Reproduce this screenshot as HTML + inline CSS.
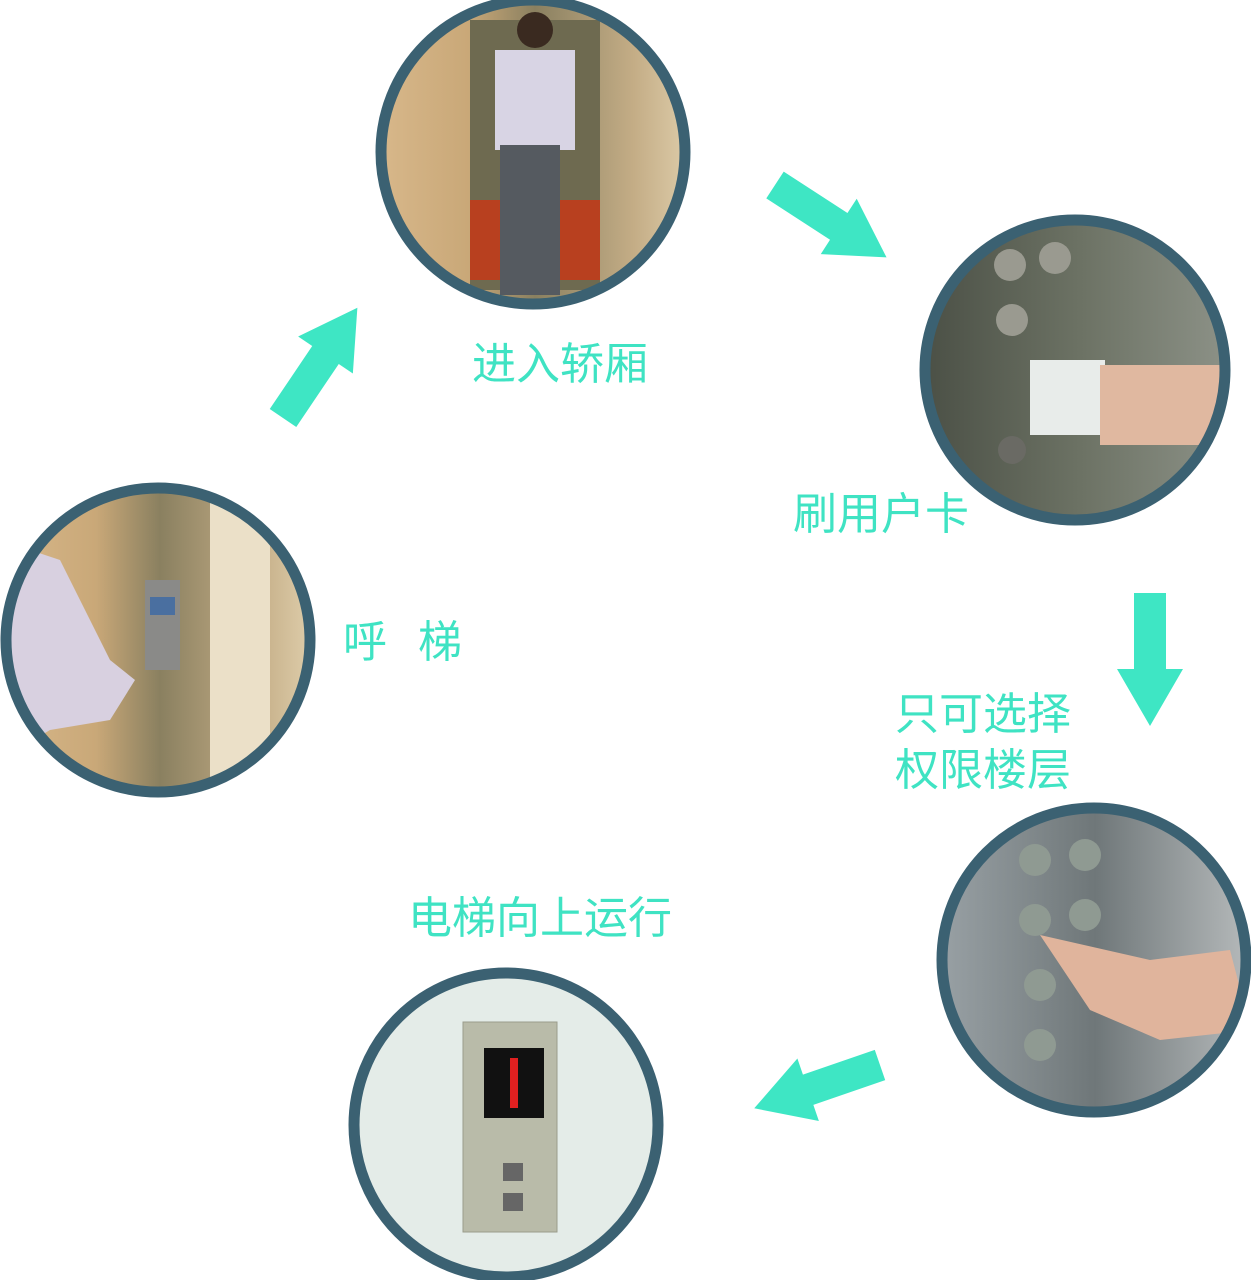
<!DOCTYPE html>
<html><head><meta charset="utf-8"><style>
html,body{margin:0;padding:0;background:#fff;}
svg{display:block}
text{font-family:"Liberation Sans","Noto Sans CJK SC",sans-serif;fill:#3fe3c3;font-size:44px;font-weight:400}
</style></head><body>
<svg width="1251" height="1280" viewBox="0 0 1251 1280" xmlns="http://www.w3.org/2000/svg">
<defs>
<polygon id="ar" points="0,-16 76,-16 76,-33 133,0 76,33 76,16 0,16" fill="#3ee6c4"/>
<clipPath id="c1"><circle cx="533" cy="152" r="152"/></clipPath>
<clipPath id="c2"><circle cx="1075" cy="370" r="150"/></clipPath>
<clipPath id="c3"><circle cx="158" cy="640" r="152"/></clipPath>
<clipPath id="c4"><circle cx="1094" cy="960" r="152"/></clipPath>
<clipPath id="c5"><circle cx="506" cy="1125" r="152"/></clipPath>
<linearGradient id="g1" x1="0" x2="1"><stop offset="0" stop-color="#d9b98c"/><stop offset="0.3" stop-color="#c9a878"/><stop offset="0.5" stop-color="#8a8060"/><stop offset="0.8" stop-color="#c4ad86"/><stop offset="1" stop-color="#e2d2b0"/></linearGradient>
<linearGradient id="g2" x1="0" x2="1"><stop offset="0" stop-color="#4a4f45"/><stop offset="0.5" stop-color="#6c7264"/><stop offset="1" stop-color="#8f948a"/></linearGradient>
<linearGradient id="g4" x1="0" x2="1"><stop offset="0" stop-color="#9aa2a6"/><stop offset="0.5" stop-color="#6f7779"/><stop offset="1" stop-color="#b8bcbd"/></linearGradient>
</defs>

<g clip-path="url(#c1)">
<rect x="370" y="0" width="330" height="310" fill="url(#g1)"/>
<rect x="470" y="20" width="130" height="270" fill="#6e6a50"/>
<rect x="470" y="200" width="130" height="80" fill="#b8401f"/>
<rect x="495" y="50" width="80" height="100" fill="#d8d4e4"/>
<rect x="500" y="145" width="60" height="150" fill="#555a60"/>
<circle cx="535" cy="30" r="18" fill="#3a2a20"/>
</g>
<circle cx="533" cy="152" r="152" fill="none" stroke="#3b6172" stroke-width="11"/>

<g clip-path="url(#c2)">
<rect x="920" y="215" width="320" height="320" fill="url(#g2)"/>
<rect x="1030" y="360" width="75" height="75" fill="#e8ecea"/>
<rect x="1100" y="365" width="130" height="80" fill="#e0b8a0"/>
<circle cx="1010" cy="265" r="16" fill="#9a9a90"/><circle cx="1055" cy="258" r="16" fill="#9a9a90"/>
<circle cx="1012" cy="320" r="16" fill="#9a9a90"/><circle cx="1012" cy="450" r="14" fill="#6a6a64"/>
</g>
<circle cx="1075" cy="370" r="150" fill="none" stroke="#3b6172" stroke-width="11"/>

<g clip-path="url(#c3)">
<rect x="0" y="485" width="320" height="320" fill="url(#g1)"/>
<rect x="210" y="485" width="60" height="320" fill="#ebe0c8"/>
<rect x="145" y="580" width="35" height="90" fill="#8a8a88"/>
<rect x="150" y="597" width="25" height="18" fill="#4a6fa0"/>
<path d="M0,540 L60,560 L110,660 L135,680 L110,720 L50,730 L0,760 Z" fill="#d8d0e0"/>
</g>
<circle cx="158" cy="640" r="152" fill="none" stroke="#3b6172" stroke-width="11"/>

<g clip-path="url(#c4)">
<rect x="935" y="805" width="320" height="320" fill="url(#g4)"/>
<circle cx="1035" cy="860" r="16" fill="#8f9a92"/><circle cx="1085" cy="855" r="16" fill="#8f9a92"/>
<circle cx="1035" cy="920" r="16" fill="#8f9a92"/><circle cx="1085" cy="915" r="16" fill="#8f9a92"/>
<circle cx="1040" cy="985" r="16" fill="#8f9a92"/><circle cx="1040" cy="1045" r="16" fill="#8f9a92"/>
<path d="M1040,935 L1150,960 L1230,950 L1251,1030 L1160,1040 L1090,1010 Z" fill="#e0b49c"/>
</g>
<circle cx="1094" cy="960" r="152" fill="none" stroke="#3b6172" stroke-width="11"/>

<g clip-path="url(#c5)">
<rect x="345" y="970" width="320" height="320" fill="#e4ece8"/>
<rect x="463" y="1022" width="94" height="210" fill="#b9bba9" stroke="#9a9c8c"/>
<rect x="484" y="1048" width="60" height="70" fill="#111"/>
<rect x="510" y="1058" width="8" height="50" fill="#e02020"/>
<rect x="503" y="1163" width="20" height="18" fill="#666"/>
<rect x="503" y="1193" width="20" height="18" fill="#666"/>
</g>
<circle cx="506" cy="1125" r="152" fill="none" stroke="#3b6172" stroke-width="11"/>

<use href="#ar" transform="translate(283,418) rotate(-56)"/>
<use href="#ar" transform="translate(775,185) rotate(33)"/>
<use href="#ar" transform="translate(1150,593) rotate(90)"/>
<use href="#ar" transform="translate(880,1065) rotate(161)"/>

<text x="472" y="379">进入轿厢</text>
<text x="793" y="529">刷用户卡</text>
<text x="343" y="657">呼</text>
<text x="418" y="657">梯</text>
<text x="895" y="729">只可选择</text>
<text x="895" y="785">权限楼层</text>
<text x="408" y="933">电梯向上运行</text>
</svg>
</body></html>
